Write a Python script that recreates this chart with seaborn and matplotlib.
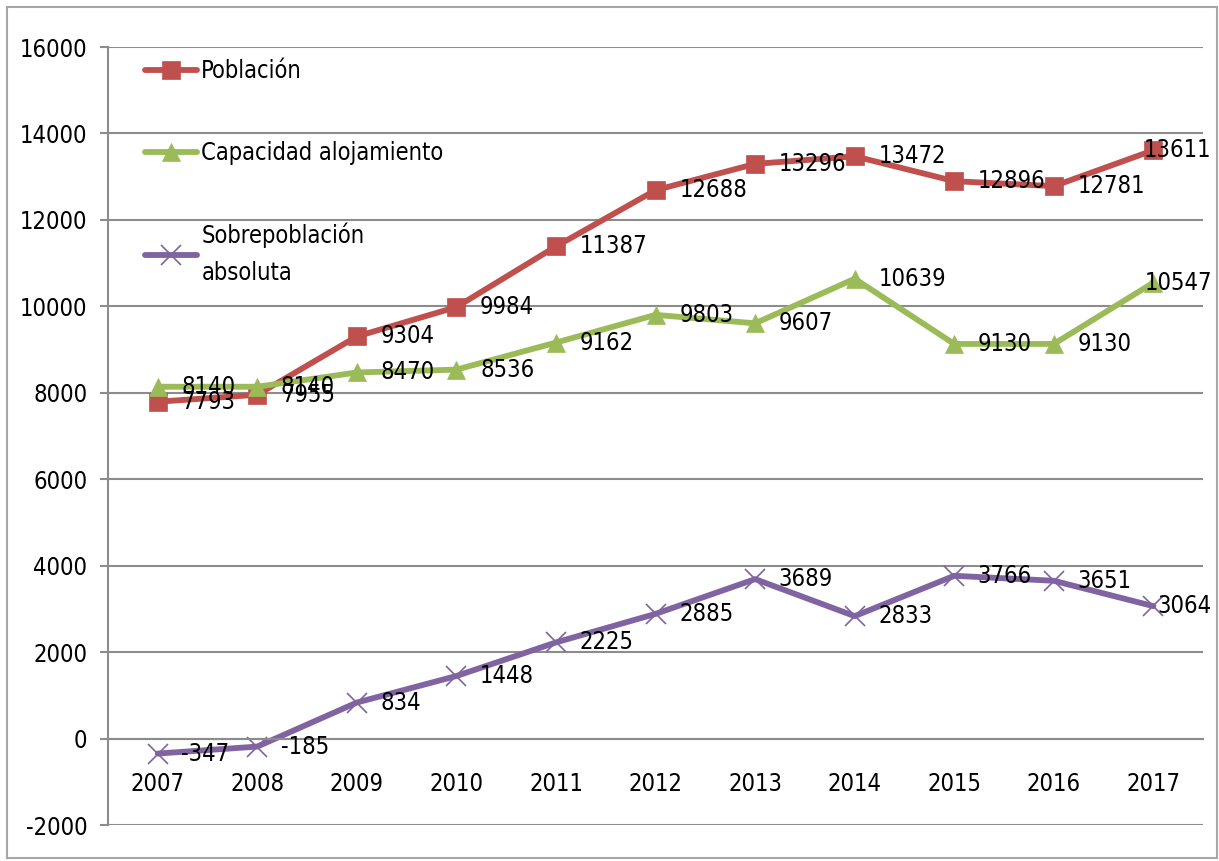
import pandas as pd
import seaborn as sns
import matplotlib.pyplot as plt
from matplotlib.patches import Rectangle

years = [2007, 2008, 2009, 2010, 2011, 2012, 2013, 2014, 2015, 2016, 2017]
poblacion = [7793, 7955, 9304, 9984, 11387, 12688, 13296, 13472, 12896, 12781, 13611]
capacidad = [8140, 8140, 8470, 8536, 9162, 9803, 9607, 10639, 9130, 9130, 10547]
sobrepoblacion = [-347, -185, 834, 1448, 2225, 2885, 3689, 2833, 3766, 3651, 3064]

series = [
    ("Población", poblacion, "#C0504D", "s", 13),
    ("Capacidad alojamiento", capacidad, "#9BBB59", "^", 13),
    ("Sobrepoblación\nabsoluta", sobrepoblacion, "#8064A2", "x", 14),
]

sns.set_style("white")
plt.rcParams["font.family"] = ["DejaVu Sans"]
plt.rcParams["font.stretch"] = "condensed"
plt.rcParams["font.size"] = 17
plt.rcParams["axes.unicode_minus"] = False
plt.rcParams["text.color"] = "black"
plt.rcParams["xtick.color"] = "black"
plt.rcParams["ytick.color"] = "black"

fig = plt.figure(figsize=(12.19, 8.61), dpi=100)
ax = fig.add_axes([0.0886, 0.0418, 0.8984, 0.9036])

for name, vals, color, marker, ms in series:
    df = pd.DataFrame({"year": years, "value": vals})
    sns.lineplot(data=df, x="year", y="value", ax=ax, color=color, lw=4.2,
                 marker=marker, markersize=ms, markeredgecolor=color,
                 markeredgewidth=1.2 if marker == "x" else 0.5, label=name)
    for i, (x, v) in enumerate(zip(years, vals)):
        if i == len(years) - 1:
            ax.annotate(str(v), (x, v), xytext=(42, 0), textcoords="offset points",
                        ha="right", va="center", fontsize=17, color="black")
        else:
            ax.annotate(str(v), (x, v), xytext=(17, 0), textcoords="offset points",
                        ha="left", va="center", fontsize=17, color="black")

ax.set_xlim(2006.5, 2017.5)
ax.set_ylim(-2000, 16000)
ax.set_yticks(range(-2000, 16001, 2000))
ax.set_xticks(years)
ax.set_xticklabels([str(y) for y in years])
ax.set_xticks([y + 0.5 for y in [2006] + years], minor=True)
ax.set_xlabel("")
ax.set_ylabel("")

ax.yaxis.grid(True, color="#8C8C8C", lw=1.5)
ax.set_axisbelow(True)
for s in ["top", "right"]:
    ax.spines[s].set_visible(False)
ax.spines["left"].set_color("#8C8C8C")
ax.spines["left"].set_linewidth(1.5)
ax.spines["bottom"].set_color("#8C8C8C")
ax.spines["bottom"].set_linewidth(1.5)
ax.spines["bottom"].set_position(("data", 0))

ax.tick_params(axis="x", which="major", length=0, pad=24, labelsize=17)
ax.tick_params(axis="x", which="minor", length=6, width=1.5, color="#8C8C8C", direction="out")
ax.tick_params(axis="y", length=6, width=1.5, color="#8C8C8C", direction="out", pad=9, labelsize=17)
ax.tick_params(axis="y", left=True)

leg = ax.legend(loc="upper left", bbox_to_anchor=(0.014, 1.012), frameon=False,
                fontsize=17, handlelength=2.2, handletextpad=0.2, labelspacing=2.45)
for t in leg.get_texts():
    t.set_linespacing(1.7)

fig.patches.append(Rectangle((0.006, 0.004), 0.992, 0.988, transform=fig.transFigure,
                             fill=False, edgecolor="#A6A6A6", lw=1.5))

fig.savefig("out.png", dpi=100)
